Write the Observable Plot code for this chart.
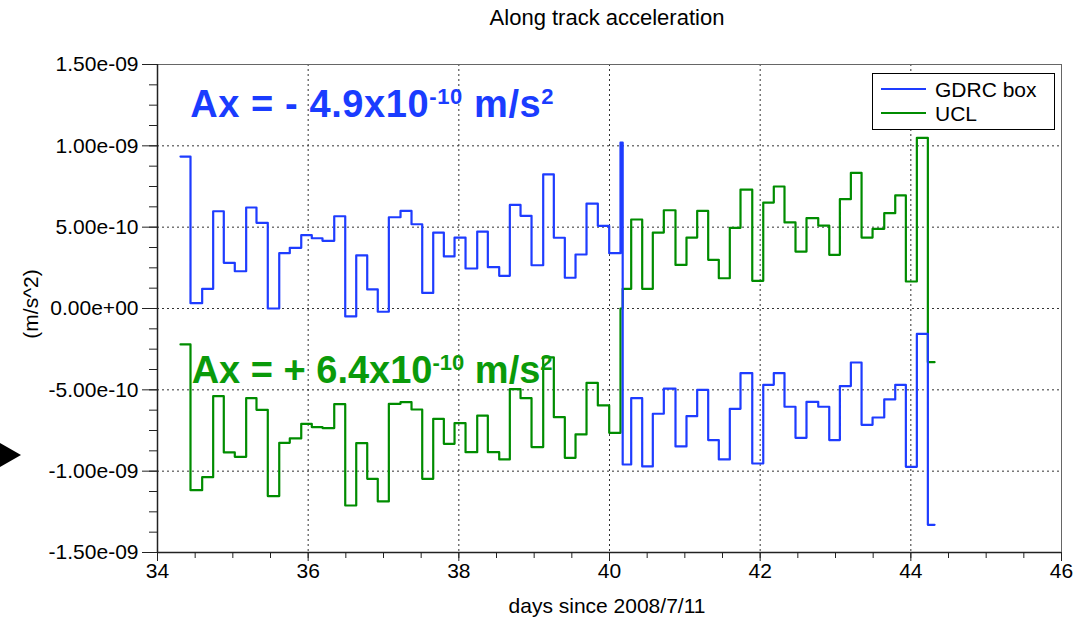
<!DOCTYPE html>
<html><head><meta charset="utf-8">
<script src="https://cdn.jsdelivr.net/npm/d3@7"></script>
<script src="https://cdn.jsdelivr.net/npm/@observablehq/plot@0.6"></script>
<style>
html,body{margin:0;padding:0;background:#fff;}
#wrap{position:relative;width:1083px;height:621px;overflow:hidden;background:#fff;}
#pointer{position:absolute;left:0;top:443px;width:0;height:0;border-top:12px solid transparent;border-bottom:12px solid transparent;border-left:21px solid #000;}
svg text{white-space:pre;}
</style></head><body>
<div id="wrap"><div id="pointer"></div></div>
<script>
const title = "Along track acceleration";
const xLabel = "days since 2008/7/11";
const yLabel = "(m/s^2)";
const seriesNames = ["GDRC box", "UCL"];
const seriesColors = ["#1e3cff", "#008c00"];

// start day of each step
const stepDays = [
  34.305, 34.438, 34.593, 34.739, 34.880, 35.026, 35.177, 35.314, 35.464, 35.616,
  35.756, 35.908, 36.048, 36.190, 36.346, 36.492, 36.638, 36.784, 36.924, 37.071,
  37.226, 37.372, 37.514, 37.660, 37.801, 37.943, 38.089, 38.244, 38.385, 38.536,
  38.677, 38.819, 38.965, 39.120, 39.261, 39.407, 39.549, 39.695, 39.845, 39.996,
  40.146,
  40.175, 40.288, 40.434, 40.575, 40.721, 40.876, 41.022, 41.164, 41.310, 41.451,
  41.597, 41.739, 41.895, 42.041, 42.181, 42.323, 42.469, 42.615, 42.771, 42.917,
  43.058, 43.204, 43.346, 43.492, 43.647, 43.793, 43.934, 44.080, 44.226
];
const endDay = 44.315;

// values in units of 1e-10 m/s^2
const gdrcBox = [
  9.34, 0.33, 1.21, 5.98, 2.81, 2.29, 6.21, 5.27, 0.00, 3.40,
  3.73, 4.51, 4.32, 4.16, 5.67, -0.49, 3.26, 1.17, -0.20, 5.61,
  6.00, 5.18, 0.96, 4.67, 3.20, 4.36, 2.46, 4.73, 2.54, 2.01,
  6.37, 5.70, 2.66, 8.24, 4.35, 1.89, 3.32, 6.45, 5.08, 3.40,
  10.2,
  -9.59, -5.51, -9.71, -6.47, -4.92, -8.48, -6.62, -5.00, -8.09, -9.28,
  -6.17, -3.97, -9.53, -4.69, -3.97, -6.04, -7.95, -5.74, -6.04, -8.09,
  -4.77, -3.32, -7.15, -6.70, -5.59, -4.69, -9.73, -1.56, -13.3
];
const ucl = [
  -2.21, -11.17, -10.37, -5.39, -8.85, -9.12, -5.51, -6.23, -11.53, -8.26,
  -7.99, -7.09, -7.29, -7.35, -5.88, -12.11, -8.28, -10.47, -11.86, -5.86,
  -5.76, -6.21, -10.47, -6.78, -8.32, -7.05, -8.83, -6.58, -8.83, -9.28,
  -4.96, -5.51, -8.52, -3.00, -6.68, -9.18, -7.74, -4.57, -5.96, -7.64,
  0.00,
  1.21, 5.47, 1.21, 4.67, 6.04, 2.68, 4.36, 6.00, 2.99, 1.86,
  4.96, 7.31, 1.70, 6.51, 7.50, 5.29, 3.50, 5.55, 5.10, 3.30,
  6.72, 8.34, 4.36, 4.90, 5.86, 6.95, 1.66, 10.49, -3.30
];

const xTicks = [34, 36, 38, 40, 42, 44, 46];
const xMinorTicks = [34, 34.5, 35, 35.5, 36, 36.5, 37, 37.5, 38, 38.5, 39, 39.5, 40, 40.5, 41, 41.5, 42, 42.5, 43, 43.5, 44, 44.5, 45, 45.5, 46];
const yTicks = [-1.5e-9, -1e-9, -5e-10, 0, 5e-10, 1e-9, 1.5e-9];
const yTickLabels = ["-1.50e-09", "-1.00e-09", "-5.00e-10", "0.00e+00", "5.00e-10", "1.00e-09", "1.50e-09"];
const yMinorTicks = [-1.5e-9, -1.375e-9, -1.25e-9, -1.125e-9, -1e-9, -8.75e-10, -7.5e-10, -6.25e-10, -5e-10, -3.75e-10, -2.5e-10, -1.25e-10, 0,
  1.25e-10, 2.5e-10, 3.75e-10, 5e-10, 6.25e-10, 7.5e-10, 8.75e-10, 1e-9, 1.125e-9, 1.25e-9, 1.375e-9, 1.5e-9];
const xGrid = [36, 38, 40, 42, 44];
const yGrid = [-1e-9, -5e-10, 0, 5e-10, 1e-9];

const annotations = [
  {color: "#1a3cff", main: "Ax = - 4.9x10", exp: "-10", unit: " m/s", unitExp: "2", day: 34.44, value: 11.74e-10, spacing: 0.6},
  {color: "#0a9a0a", main: "Ax = + 6.4x10", exp: "-10", unit: " m/s", unitExp: "2", day: 34.46, value: -4.61e-10, spacing: 0}
];

// build table
const rows = [];
[[seriesNames[1], ucl], [seriesNames[0], gdrcBox]].forEach(([name, vals]) => {
  vals.forEach((v, i) => rows.push({series: name, day: stepDays[i], value: v * 1e-10}));
  rows.push({series: name, day: endDay, value: vals[vals.length - 1] * 1e-10});
});
const yLabelMap = new Map(yTicks.map((t, i) => [t, yTickLabels[i]]));

const M = {left: 157, right: 22, top: 64, bottom: 69};
const W = 1083, H = 621;

const plot = Plot.plot({
  width: W, height: H,
  marginLeft: M.left, marginRight: M.right, marginTop: M.top, marginBottom: M.bottom,
  style: {fontFamily: "'Liberation Sans', Arial, sans-serif", fontSize: "21px", background: "#fff", color: "#000", overflow: "visible"},
  x: {domain: [34, 46]},
  y: {domain: [-1.5e-9, 1.5e-9]},
  color: {domain: seriesNames, range: seriesColors},
  marks: [
    Plot.gridX(xGrid, {stroke: "#333", strokeOpacity: 1, strokeDasharray: "2,3"}),
    Plot.gridY(yGrid, {stroke: "#333", strokeOpacity: 1, strokeDasharray: "2,3"}),
    Plot.frame({stroke: "#666"}),
    Plot.ruleX([34], {stroke: "#222", strokeWidth: 1.5}),
    Plot.ruleY([-1.5e-9], {stroke: "#222", strokeWidth: 1.5}),
    Plot.axisX(xMinorTicks, {anchor: "bottom", tickSize: 6, stroke: "#222", tickFormat: () => "", label: null}),
    Plot.axisX(xTicks, {anchor: "bottom", tickSize: 9, tickPadding: 2, stroke: "#222", fill: "#000", label: null}),
    Plot.axisY(yMinorTicks, {anchor: "left", tickSize: 8, stroke: "#222", tickFormat: () => "", label: null}),
    Plot.axisY(yTicks, {anchor: "left", tickSize: 15, tickPadding: 4, stroke: "#222", fill: "#000", tickFormat: d => yLabelMap.get(d), label: null}),
    Plot.line(rows, {x: "day", y: "value", z: "series", stroke: "series", strokeWidth: 2.2, curve: "step-after"})
  ]
});
document.getElementById("wrap").prepend(plot);

const svg = d3.select(plot);
const xs = d3.scaleLinear().domain([34, 46]).range([M.left, W - M.right]);
const ys = d3.scaleLinear().domain([-1.5e-9, 1.5e-9]).range([H - M.bottom, M.top]);

// title & axis labels
svg.append("text").attr("x", 607).attr("y", 25).attr("text-anchor", "middle")
  .style("font-size", "22px").attr("fill", "#000").text(title);
svg.append("text").attr("x", 607).attr("y", 613).attr("text-anchor", "middle")
  .style("font-size", "21px").attr("fill", "#000").text(xLabel);
svg.append("text").attr("transform", "translate(38,304) rotate(-90)").attr("text-anchor", "middle")
  .style("font-size", "21px").attr("fill", "#000").text(yLabel);

// annotations
annotations.forEach(a => {
  const t = svg.append("text").attr("x", xs(a.day)).attr("y", ys(a.value)).attr("fill", a.color)
    .attr("text-anchor", "start")
    .style("font-size", "38px").style("font-weight", "bold").style("letter-spacing", a.spacing + "px");
  t.append("tspan").text(a.main);
  t.append("tspan").attr("dy", -13).style("font-size", "22px").text(a.exp);
  t.append("tspan").attr("dy", 13).text(a.unit);
  t.append("tspan").attr("dy", -13).style("font-size", "22px").text(a.unitExp);
});

// legend
const lg = svg.append("g").attr("text-anchor", "start");
lg.append("rect").attr("x", 872.5).attr("y", 73.5).attr("width", 182).attr("height", 56)
  .attr("fill", "#fff").attr("stroke", "#000").attr("stroke-width", 1);
seriesNames.forEach((name, i) => {
  const yy = 89 + i * 24;
  lg.append("line").attr("x1", 881).attr("x2", 926).attr("y1", yy).attr("y2", yy)
    .attr("stroke", seriesColors[i]).attr("stroke-width", 2);
  lg.append("text").attr("x", 935).attr("y", yy + 7.5).attr("text-anchor", "start")
    .style("font-size", "21px").attr("fill", "#000").text(name);
});
</script>
</body></html>
